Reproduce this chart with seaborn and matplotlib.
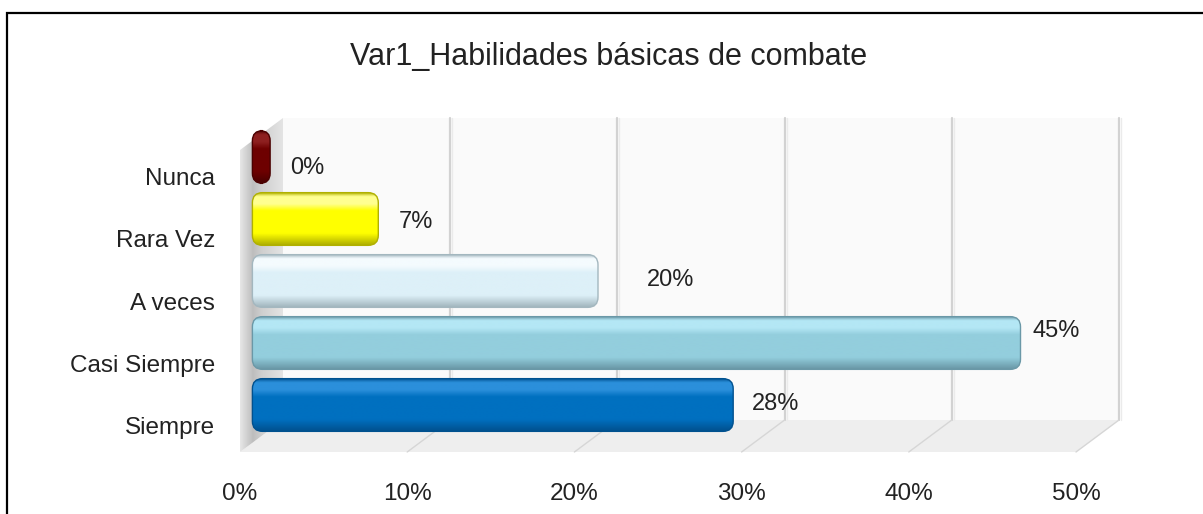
import numpy as np
import matplotlib
matplotlib.use("Agg")
import matplotlib.pyplot as plt
import matplotlib.transforms as mtransforms
import seaborn as sns
import pandas as pd
from matplotlib.patches import FancyBboxPatch, Polygon
from matplotlib.colors import to_rgb
from matplotlib.ticker import PercentFormatter

# ---------------- data ----------------
categories = ["Nunca", "Rara Vez", "A veces", "Casi Siempre", "Siempre"]
values = [0.00, 0.07, 0.20, 0.45, 0.28]
value_labels = ["0%", "7%", "20%", "45%", "28%"]
x_ticks = [0.0, 0.1, 0.2, 0.3, 0.4, 0.5]
title = "Var1_Habilidades básicas de combate"

# ---------------- styles ----------------
bar_colors = ["#6E0000", "#FFFF00", "#DDF0F8", "#93CEDD", "#0070C0"]
bar_dark = ["#4A0000", "#B0B000", "#A3B7BF", "#6A98A7", "#00518F"]
bar_light = ["#8E2020", "#FFFF90", "#F4FBFE", "#B4E7F5", "#2B8FDB"]
label_dx_px = [30, 20, 49, 12, 19]
label_dy_px = [11, 3, -1, -12, -1]
text_color = "#222222"

W, H = 1203, 514
sns.set_theme(style="white")
plt.rcParams["font.family"] = ["Liberation Sans", "DejaVu Sans"]

fig = plt.figure(figsize=(W / 100, H / 100), dpi=100)
fig.patch.set_facecolor("white")


def fx(px):
    return px / W


def fy(py):
    return 1 - py / H


# ---------- background (pixel coordinates) ----------
bg = fig.add_axes([0, 0, 1, 1], zorder=0)
bg.set_xlim(0, W)
bg.set_ylim(H, 0)
bg.axis("off")

# outer frame
bg.plot([7, 7, W + 5], [H + 5, 13, 13], color="black", lw=1.6,
        solid_joinstyle="miter", clip_on=False)

wall_top, wall_bot = 118, 420
back_x0, back_x1 = 283, 1119
front_x0, front_x1, front_y = 240, 1076, 452

# back wall
bg.add_patch(Polygon([(back_x0, wall_top), (back_x1, wall_top),
                      (back_x1, wall_bot), (back_x0, wall_bot)],
                     closed=True, facecolor="#FAFAFA", edgecolor="none"))
# floor
bg.add_patch(Polygon([(front_x0, front_y), (front_x1, front_y),
                      (back_x1, wall_bot), (back_x0, wall_bot)],
                     closed=True, facecolor="#EEEEEE", edgecolor="none"))
# left wall with gradient
lw_poly = Polygon([(front_x0, wall_top + 32), (back_x0, wall_top),
                   (back_x0, wall_bot), (front_x0, front_y)],
                  closed=True, facecolor="none", edgecolor="none")
bg.add_patch(lw_poly)
stops = [(0.0, "#E6E6E6"), (0.3, "#BDBDBD"), (0.5, "#CFCFCF"), (1.0, "#E4E4E4")]
tt = np.linspace(0, 1, 60)
grad = np.zeros((1, 60, 3))
for c in range(3):
    grad[0, :, c] = np.interp(tt, [s[0] for s in stops],
                              [to_rgb(s[1])[c] for s in stops])
im = bg.imshow(grad, extent=(front_x0, back_x0, front_y, wall_top),
               origin="upper", aspect="auto", zorder=1)
im.set_clip_path(lw_poly)
bg.set_xlim(0, W)
bg.set_ylim(H, 0)

# gridlines on back wall and floor
step_back = (back_x1 - back_x0) / 5
step_front = (front_x1 - front_x0) / 5
for i in range(1, 6):
    gx = back_x0 + step_back * i
    bg.plot([gx, gx], [wall_top, wall_bot], color="#D2D2D2", lw=1.6, zorder=2)
    bg.plot([gx + 2, gx + 2], [wall_top, wall_bot], color="#EBEBEB", lw=1.0, zorder=2)
    fxp = front_x0 + step_front * i
    bg.plot([fxp, gx], [front_y, wall_bot], color="#D6D6D6", lw=1.0, zorder=2)

# ---------- bars ----------
zero_px, half_px = 260, 1105          # pixel positions of 0 % and 50 % for bars
ax_left = 248
ax_top, ax_bot = 118, 452
x_per_px = 0.5 / (half_px - zero_px)
x_min = -(zero_px - ax_left) * x_per_px
ax = fig.add_axes([fx(ax_left), fy(ax_bot), (half_px - ax_left) / W,
                   (ax_bot - ax_top) / H], zorder=2)
ax.patch.set_alpha(0)

df = pd.DataFrame({"categoria": categories, "valor": values})
sns.barplot(data=df, y="categoria", x="valor", hue="categoria",
            order=categories, hue_order=categories,
            palette=bar_colors, width=0.85, legend=False, ax=ax)

y_lo, y_hi = 4.758, -0.629
ax.set_xlim(x_min, 0.5)
ax.set_ylim(y_lo, y_hi)

y_per_px = (y_lo - y_hi) / (ax_bot - ax_top)
aspect = y_per_px / x_per_px
cap = 0.0045
min_w = 0.006

for p in list(ax.patches):
    x0, y0, w, h = p.get_x(), p.get_y(), p.get_width(), p.get_height()
    idx = int(round(y0 + h / 2))
    p.set_visible(False)
    ww = max(w, min_w) + cap
    xx = x0 - cap
    fb = FancyBboxPatch((xx, y0), ww, h,
                        boxstyle=f"round,pad=0,rounding_size={0.006}",
                        mutation_aspect=aspect, facecolor="none",
                        edgecolor=bar_dark[idx], lw=1.0, zorder=4)
    ax.add_patch(fb)
    base, dark, light = bar_colors[idx], bar_dark[idx], bar_light[idx]
    vstops = [(0.0, dark), (0.08, light), (0.22, light), (0.35, base),
              (0.78, base), (1.0, dark)]
    n = 80
    t = np.linspace(0, 1, n)
    img = np.zeros((n, 1, 3))
    for c in range(3):
        img[:, 0, c] = np.interp(t, [s[0] for s in vstops],
                                 [to_rgb(s[1])[c] for s in vstops])
    gi = ax.imshow(img, extent=(xx, xx + ww, y0 + h, y0), origin="upper",
                   aspect="auto", zorder=3, interpolation="bilinear")
    gi.set_clip_path(fb)

ax.set_xlim(x_min, 0.5)
ax.set_ylim(y_lo, y_hi)

# value labels
for i, (v, lbl) in enumerate(zip(values, value_labels)):
    ax.annotate(lbl, xy=(v, i), xytext=(label_dx_px[i] * 0.72, -label_dy_px[i] * 0.72),
                textcoords="offset points", ha="left", va="center",
                fontsize=17, color=text_color, zorder=5)

ax.set_xlabel("")
ax.set_ylabel("")
ax.set_xticks([])
ax.tick_params(axis="y", length=0, pad=23.5, labelsize=17.5, labelcolor=text_color)
shift = mtransforms.ScaledTranslation(0, -0.20, fig.dpi_scale_trans)
for lab in ax.get_yticklabels():
    lab.set_transform(lab.get_transform() + shift)
for s in ax.spines.values():
    s.set_visible(False)

# ---------- front axis for tick labels ----------
axf = fig.add_axes([fx(front_x0), fy(front_y), (front_x1 - front_x0) / W, 0.001], zorder=1)
axf.patch.set_alpha(0)
axf.set_xlim(0, 0.5)
axf.set_xticks(x_ticks)
axf.xaxis.set_major_formatter(PercentFormatter(1.0, decimals=0))
axf.set_yticks([])
axf.tick_params(axis="x", length=0, pad=22, labelsize=17.5, labelcolor=text_color)
for s in axf.spines.values():
    s.set_visible(False)

# title
fig.text(fx(609), fy(57), title, ha="center", va="center", fontsize=22, color=text_color)

fig.savefig("out.png", dpi=100, facecolor="white")
